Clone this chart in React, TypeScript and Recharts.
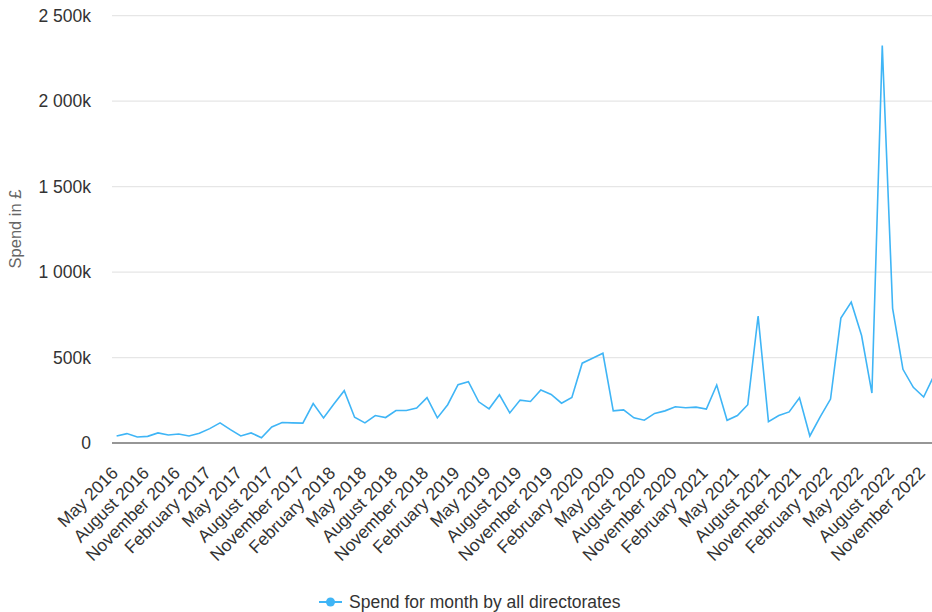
import React from 'react';
import { LineChart, Line, XAxis, YAxis, CartesianGrid, Legend } from 'recharts';

const months2016 = ['May 2016', 'June 2016', 'July 2016', 'August 2016', 'September 2016', 'October 2016', 'November 2016', 'December 2016'];
const months2017 = ['January 2017', 'February 2017', 'March 2017', 'April 2017', 'May 2017', 'June 2017', 'July 2017', 'August 2017', 'September 2017', 'October 2017', 'November 2017', 'December 2017'];
const months2018 = ['January 2018', 'February 2018', 'March 2018', 'April 2018', 'May 2018', 'June 2018', 'July 2018', 'August 2018', 'September 2018', 'October 2018', 'November 2018', 'December 2018'];
const months2019 = ['January 2019', 'February 2019', 'March 2019', 'April 2019', 'May 2019', 'June 2019', 'July 2019', 'August 2019', 'September 2019', 'October 2019', 'November 2019', 'December 2019'];
const months2020 = ['January 2020', 'February 2020', 'March 2020', 'April 2020', 'May 2020', 'June 2020', 'July 2020', 'August 2020', 'September 2020', 'October 2020', 'November 2020', 'December 2020'];
const months2021 = ['January 2021', 'February 2021', 'March 2021', 'April 2021', 'May 2021', 'June 2021', 'July 2021', 'August 2021', 'September 2021', 'October 2021', 'November 2021', 'December 2021'];
const months2022 = ['January 2022', 'February 2022', 'March 2022', 'April 2022', 'May 2022', 'June 2022', 'July 2022', 'August 2022', 'September 2022', 'October 2022', 'November 2022', 'December 2022'];

// Spend in thousands of pounds
const spend2016 = [41, 55, 35, 39, 59, 47, 53, 41];
const spend2017 = [57, 84, 118, 78, 41, 59, 31, 94, 120, 118, 116, 231];
const spend2018 = [147, 228, 306, 151, 118, 161, 149, 190, 190, 204, 265, 147];
const spend2019 = [224, 341, 359, 241, 200, 282, 176, 251, 243, 310, 284, 233];
const spend2020 = [267, 467, 496, 525, 188, 194, 147, 133, 173, 188, 212, 206];
const spend2021 = [210, 198, 339, 133, 161, 224, 743, 125, 161, 182, 265, 41];
const spend2022 = [153, 257, 731, 824, 629, 292, 2325, 788, 431, 326, 269, 395];

const yTicks = [0, 500, 1000, 1500, 2000, 2500];
const yTickLabels = ['0', '500k', '1 000k', '1 500k', '2 000k', '2 500k'];

const seriesName = 'Spend for month by all directorates';

const categories = [...months2016, ...months2017, ...months2018, ...months2019, ...months2020, ...months2021, ...months2022];
const values = [...spend2016, ...spend2017, ...spend2018, ...spend2019, ...spend2020, ...spend2021, ...spend2022];
const data = categories.map((month, i) => ({ month, spend: values[i] }));

const FONT = '"Liberation Sans", Arial, sans-serif';
const LINE_COLOR = '#3fb5f6';

const XTick = (props: any) => {
  const { x, y, payload } = props;
  const ax = x + 2.5;
  const ay = y + 23;
  return (
    <text
      x={ax}
      y={ay}
      transform={`rotate(-45, ${ax}, ${ay})`}
      textAnchor="end"
      fill="#333"
      fontSize={17.5}
      fontFamily={FONT}
    >
      {payload.value}
    </text>
  );
};

const YLabel = () => (
  <text
    x={15}
    y={229}
    transform="rotate(-90, 15, 229)"
    textAnchor="middle"
    dominantBaseline="central"
    fill="#666"
    fontSize={16.5}
    fontFamily={FONT}
  >
    Spend in £
  </text>
);

const LegendContent = () => (
  <div style={{ height: 30, position: 'relative', fontFamily: FONT }}>
    <div
      style={{
        position: 'absolute',
        left: 319,
        top: 7,
        height: 30,
        display: 'flex',
        alignItems: 'center',
        whiteSpace: 'nowrap',
      }}
    >
      <svg width={23} height={10} style={{ display: 'block' }}>
        <line x1={0} y1={5} x2={23} y2={5} stroke={LINE_COLOR} strokeWidth={2} />
        <circle cx={11.5} cy={5} r={4.5} fill={LINE_COLOR} />
      </svg>
      <span style={{ marginLeft: 7, fontSize: 17.5, color: '#333' }}>{seriesName}</span>
    </div>
  </div>
);

export default function App() {
  return (
    <div
      style={{
        position: 'fixed',
        left: 0,
        top: 0,
        width: 932,
        height: 612,
        overflow: 'hidden',
        background: '#fff',
      }}
    >
      <LineChart
        width={939}
        height={612}
        data={data}
        margin={{ top: 15.7, right: 0, bottom: 2, left: 0 }}
      >
        <CartesianGrid vertical={false} stroke="#e6e6e6" strokeWidth={1.3} />
        <XAxis
          dataKey="month"
          interval={2}
          height={137}
          tick={<XTick />}
          tickLine={false}
          axisLine={{ stroke: '#7a7a7a', strokeWidth: 1.5 }}
          padding={{ left: 4.6, right: 5 }}
        />
        <YAxis
          width={112}
          domain={[0, 2500]}
          ticks={yTicks}
          tickFormatter={(v: number) => yTickLabels[yTicks.indexOf(v)]}
          axisLine={false}
          tickLine={false}
          tickSize={6}
          tickMargin={15}
          tick={{ fill: '#333', fontSize: 17.5, fontFamily: FONT }}
          label={<YLabel />}
        />
        <Legend verticalAlign="bottom" height={30} content={<LegendContent />} />
        <Line
          type="linear"
          dataKey="spend"
          name={seriesName}
          stroke={LINE_COLOR}
          strokeWidth={1.6}
          dot={false}
          activeDot={false}
          isAnimationActive={false}
        />
      </LineChart>
    </div>
  );
}
